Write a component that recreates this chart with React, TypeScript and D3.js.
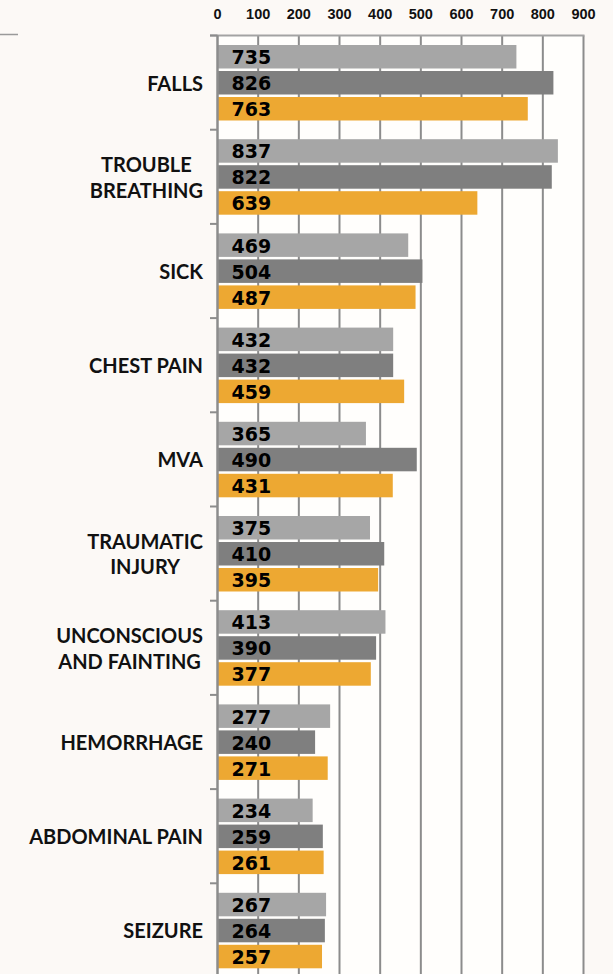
import React, { useRef, useEffect } from 'react'
import { select, scaleLinear, scaleBand, range } from 'd3'

const categories = ['FALLS', 'TROUBLE BREATHING', 'SICK', 'CHEST PAIN', 'MVA', 'TRAUMATIC INJURY',
  'UNCONSCIOUS AND FAINTING', 'HEMORRHAGE', 'ABDOMINAL PAIN', 'SEIZURE']
const labelLines = [['FALLS'], ['TROUBLE', 'BREATHING'], ['SICK'], ['CHEST PAIN'], ['MVA'],
  ['TRAUMATIC', 'INJURY'], ['UNCONSCIOUS', 'AND FAINTING'], ['HEMORRHAGE'], ['ABDOMINAL PAIN'], ['SEIZURE']]
const seriesKeys = ['first', 'second', 'third']
const firstValues = [735, 837, 469, 432, 365, 375, 413, 277, 234, 267]
const secondValues = [826, 822, 504, 432, 490, 410, 390, 240, 259, 264]
const thirdValues = [763, 639, 487, 459, 431, 395, 377, 271, 261, 257]
const xTicks = [0, 100, 200, 300, 400, 500, 600, 700, 800, 900]
const colors = ['#a6a6a6', '#7f7f7f', '#eda832']

const width = 613
const height = 974

const App = () => {
  const svgRef = useRef<SVGSVGElement>(null)

  useEffect(() => {
    document.body.style.margin = '0'
    const svg = select(svgRef.current)
    svg.selectAll('*').remove()

    const top = 35.5
    const step = 94.2
    const x = scaleLinear().domain([0, 900]).range([217.5, 583.5])
    const y = scaleBand<string>().domain(categories).range([top, top + step * categories.length])
    const inner = scaleBand<string>().domain(seriesKeys).range([9.5, 85]).paddingInner(0.096)
    const series = [firstValues, secondValues, thirdValues]

    svg.append('rect').attr('width', width).attr('height', height).attr('fill', '#fcf9f6')
    svg.append('rect')
      .attr('x', x(0)).attr('y', top)
      .attr('width', x(900) - x(0)).attr('height', height - top)
      .attr('fill', '#fffefc')

    // stray rule top-left
    svg.append('line').attr('x1', 0).attr('x2', 18).attr('y1', 34.5).attr('y2', 34.5)
      .attr('stroke', '#9a9a9a').attr('stroke-width', 1.5)

    // gridlines
    svg.append('g').selectAll('line').data(xTicks.slice(1)).join('line')
      .attr('x1', d => x(d)).attr('x2', d => x(d))
      .attr('y1', top).attr('y2', height)
      .attr('stroke', '#8c8c8c').attr('stroke-width', 2)

    // top rule
    svg.append('line').attr('x1', 210).attr('x2', x(900) + 1).attr('y1', top).attr('y2', top)
      .attr('stroke', '#a3a3a3').attr('stroke-width', 2)

    // tick labels
    svg.append('g').selectAll('text').data(xTicks).join('text')
      .attr('x', d => x(d)).attr('y', 19)
      .attr('text-anchor', 'middle')
      .attr('font-family', '"Liberation Sans", Arial, sans-serif')
      .attr('font-weight', 'bold').attr('font-size', 14.5).attr('fill', '#111')
      .text(d => d)

    // bars
    const groups = svg.append('g').selectAll('g').data(categories).join('g')
      .attr('transform', d => `translate(0,${y(d)})`)
    groups.each(function (cat, i) {
      const g = select(this)
      seriesKeys.forEach((k, j) => {
        const v = series[j][i]
        g.append('rect')
          .attr('x', x(0)).attr('y', inner(k)!)
          .attr('width', x(v) - x(0)).attr('height', inner.bandwidth())
          .attr('fill', colors[j])
        g.append('text')
          .attr('x', x(0) + 14).attr('y', inner(k)! + inner.bandwidth() / 2 + 7.5)
          .attr('font-family', '"DejaVu Sans", sans-serif')
          .attr('font-weight', 'bold').attr('font-size', 19).attr('fill', '#000')
          .text(v)
      })
    })

    // left axis
    svg.append('line').attr('x1', x(0)).attr('x2', x(0)).attr('y1', top).attr('y2', height)
      .attr('stroke', '#8c8c8c').attr('stroke-width', 2.5)
    svg.append('g').selectAll('line').data(range(categories.length + 1)).join('line')
      .attr('x1', 210).attr('x2', x(0))
      .attr('y1', i => top + i * step).attr('y2', i => top + i * step)
      .attr('stroke', '#8c8c8c').attr('stroke-width', 2)

    // category labels, lines centred within a right-aligned block
    const right = 203
    categories.forEach((cat, i) => {
      const lines = labelLines[i]
      const c = y(cat)! + y.bandwidth() / 2
      const t = svg.append('text')
        .attr('font-family', 'Lato, "Noto Sans", sans-serif')
        .attr('font-weight', 'bold').attr('font-size', 20).attr('fill', '#111')
        .attr('text-anchor', 'middle')
      const spans = lines.map((ln, k) => t.append('tspan')
        .attr('y', c + 8 + (k - (lines.length - 1) / 2) * 25.6)
        .text(ln))
      const maxW = Math.max(...spans.map(s => (s.node() as SVGTSpanElement).getComputedTextLength()))
      spans.forEach(s => s.attr('x', right - maxW / 2))
    })
  }, [])

  return (
    <div style={{ position: 'absolute', left: 0, top: 0 }}>
      <svg ref={svgRef} width={width} height={height} style={{ display: 'block' }}></svg>
    </div>
  )
}

export default App
